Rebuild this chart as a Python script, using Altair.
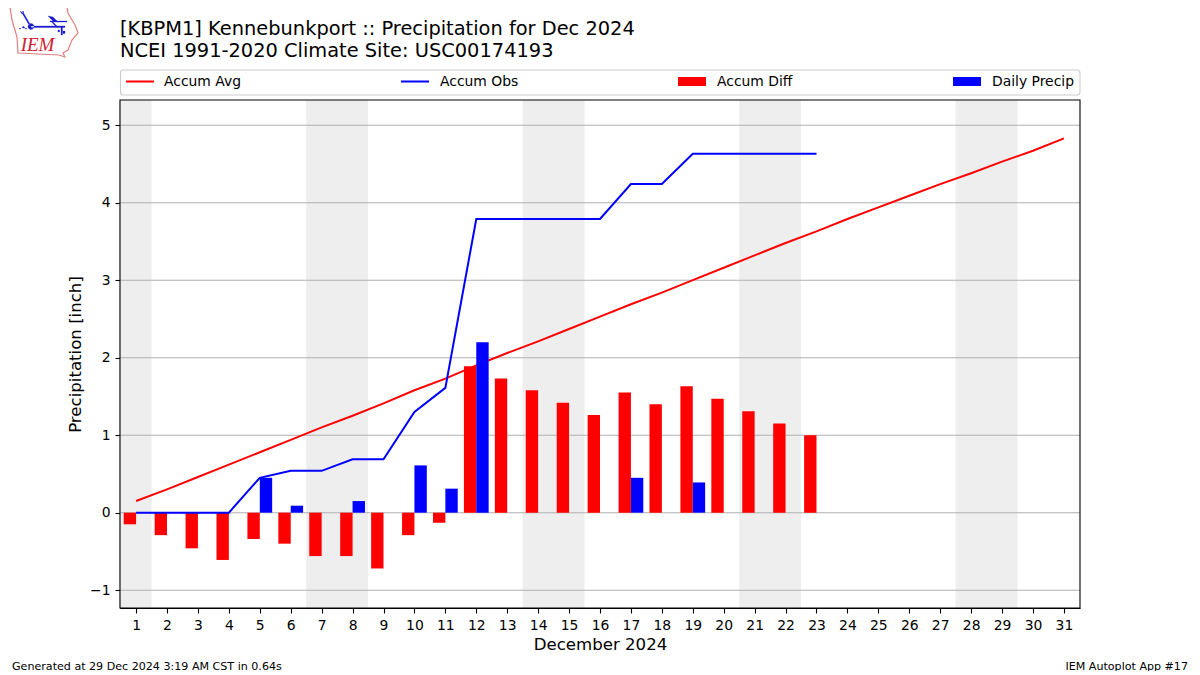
import altair as alt
import pandas as pd

FONT = "DejaVu Sans"

days = list(range(1, 32))
accum_avg = [0.15, 0.30, 0.46, 0.62, 0.78, 0.94, 1.10, 1.25, 1.41, 1.58, 1.73,
             1.90, 2.06, 2.21, 2.37, 2.53, 2.69, 2.84, 3.00, 3.16, 3.32, 3.48,
             3.63, 3.79, 3.94, 4.09, 4.24, 4.38, 4.53, 4.67, 4.83]
obs_days = list(range(1, 24))
accum_obs = [0, 0, 0, 0, 0.45, 0.54, 0.54, 0.69, 0.69, 1.30, 1.61, 3.79, 3.79,
             3.79, 3.79, 3.79, 4.24, 4.24, 4.63, 4.63, 4.63, 4.63, 4.63]
accum_diff = [-0.15, -0.29, -0.46, -0.61, -0.34, -0.40, -0.56, -0.56, -0.72,
              -0.29, -0.13, 1.89, 1.73, 1.58, 1.42, 1.26, 1.55, 1.40, 1.63,
              1.47, 1.31, 1.15, 1.00]
daily_precip = [0, 0, 0, 0, 0.45, 0.09, 0, 0.15, 0, 0.61, 0.31, 2.20, 0, 0, 0,
                0, 0.45, 0, 0.39, 0, 0, 0, 0]
weekend_start = [0.48, 6.5, 13.5, 20.5, 27.5]
weekend_end = [1.5, 8.5, 15.5, 22.5, 29.5]
grid_values = [-1, 0, 1, 2, 3, 4, 5]

XDOM = [0.48, 31.52]
YDOM = [-1.23, 5.325]
BAR_W = 0.4

xs = alt.Scale(domain=XDOM, nice=False, zero=False)
ys = alt.Scale(domain=YDOM, nice=False, zero=False)

df_avg = pd.DataFrame({"day": days, "v": accum_avg})
df_obs = pd.DataFrame({"day": obs_days, "v": accum_obs})
df_diff = pd.DataFrame({"a": [d - BAR_W for d in obs_days], "b": obs_days, "v": accum_diff, "z": [0] * 23})
df_daily = pd.DataFrame({"a": obs_days, "b": [d + BAR_W for d in obs_days], "v": daily_precip, "z": [0] * 23})
df_daily = df_daily[df_daily.v > 0]
df_we = pd.DataFrame({"a": weekend_start, "b": weekend_end})
df_grid = pd.DataFrame({"g": grid_values})

one = alt.Data(values=[{"k": 1}])

shade = alt.Chart(df_we).mark_rect(color="#eeeeee", opacity=1).encode(
    x=alt.X("a:Q", scale=xs,
            axis=alt.Axis(values=days, tickCount=31, format="d", title="December 2024", grid=False,
                          labelFont=FONT, labelFontSize=13.9, labelColor="black", labelFlush=False,
                          titleFont=FONT, titleFontSize=16.6, titleFontWeight="normal", titleColor="black",
                          titlePadding=5, tickColor="black", tickSize=5, tickWidth=1.1, domainColor="black",
                          domainWidth=1.1, labelPadding=5, labelOverlap=False)),
    x2="b:Q",
)
grid = alt.Chart(df_grid).mark_rule(color="#b0b0b0", strokeWidth=1.1).encode(
    y=alt.Y("g:Q", scale=ys,
            axis=alt.Axis(values=grid_values, format="d", title="Precipitation [inch]", grid=False,
                          labelFont=FONT, labelFontSize=13.9, labelColor="black",
                          titleFont=FONT, titleFontSize=16.6, titleFontWeight="normal", titleColor="black",
                          titlePadding=6, tickColor="black", tickSize=5, tickWidth=1.1, domainColor="black",
                          domainWidth=1.1, labelPadding=5)),
)
line_avg = alt.Chart(df_avg).mark_line(color="#ff0000", strokeWidth=2).encode(
    x=alt.X("day:Q", scale=xs), y=alt.Y("v:Q", scale=ys))
bars_diff = alt.Chart(df_diff).mark_rect(color="#ff0000").encode(
    x=alt.X("a:Q", scale=xs), x2="b:Q", y=alt.Y("v:Q", scale=ys), y2="z:Q")
bars_daily = alt.Chart(df_daily).mark_rect(color="#0000ff").encode(
    x=alt.X("a:Q", scale=xs), x2="b:Q", y=alt.Y("v:Q", scale=ys), y2="z:Q")
line_obs = alt.Chart(df_obs).mark_line(color="#0000ff", strokeWidth=2).encode(
    x=alt.X("day:Q", scale=xs), y=alt.Y("v:Q", scale=ys))

# Pixel positions below are relative to the plot's top-left corner (page 120,100).
def px(x): return alt.value(x - 120)
def py(y): return alt.value(y - 100)

def text(s, x, y, size=13.9, align="left"):
    return alt.Chart(one).mark_text(text=s, font=FONT, fontSize=size, color="black", align=align,
                                    baseline="middle", clip=False).encode(x=px(x), y=py(y))

plot_frame = alt.Chart(one).mark_rect(fillOpacity=0, stroke="black", strokeWidth=1.1, clip=False).encode(
    x=px(120), x2=px(1080), y=py(100), y2=py(608))
frame = alt.Chart(one).mark_rect(fill="white", stroke="#cccccc", strokeWidth=1.1, cornerRadius=3, clip=False).encode(
    x=px(120.5), x2=px(1080), y=py(70), y2=py(95))
leg = [frame]
for label, x0, tx, col, kind in [("Accum Avg", 126, 164, "#ff0000", "l"), ("Accum Obs", 401, 440, "#0000ff", "l"),
                                 ("Accum Diff", 678, 717, "#ff0000", "r"), ("Daily Precip", 953, 992, "#0000ff", "r")]:
    if kind == "l":
        leg.append(alt.Chart(one).mark_rule(color=col, strokeWidth=2, clip=False).encode(
            x=px(x0), x2=px(x0 + 28), y=py(81.5)))
    else:
        leg.append(alt.Chart(one).mark_rect(color=col, clip=False).encode(
            x=px(x0), x2=px(x0 + 28), y=py(77), y2=py(86)))
    leg.append(text(label, tx, 81.5))

# Logo drawn as custom symbols; path units are pixels offset from page point (44,32).
OUTLINE = ("M-34,-25 L23,-25 L24,-19 L31,-7 L34,1 L28,8 L24,18 L19,21 L21,25 L15,23 L-26,21 "
           "L-27,5 L-32,-12 Z")
GLYPH = ("M-13,-6 L21,-6 L21,-4.5 L-13,-4.5 Z "                         # main bar
         "M-13,-8.5 A3,3 0 1 0 -13,-2.5 A3,3 0 1 0 -13,-8.5 Z "         # hub
         "M4,-16 L9,-15 L14,-10 L9,-11 Z "                              # vane
         "M6,-11 L23,-11 L23,-10 L6,-10 Z "                             # upper bar
         "M9,-10 L14,-5 L13,-4.5 L8,-9.5 Z "                            # strut
         "M17,-5 L18.5,-5 L18.5,3 L17,3 Z "                             # right post
         "M14,-2 L15.5,-2 L15.5,0 L14,0 Z M19,-1 L21,-1 L21,1.5 L19,1.5 Z "
         "M-15,-7 L-22,-19 L-21,-20 L-14,-8 Z "                         # left arm
         "M-24,-21 L-22,-18 L-20,-20 L-21,-21 L-22,-19.5 Z "            # fork
         "M-20.5,-6 L-19,-4 L-22,-4 Z M-24,-4 L-23,-3 L-25,-3 Z M-18,-4 L-17,-3 L-19,-3 Z")
logo_out = alt.Chart(one).mark_point(shape=OUTLINE, size=4, stroke="#e08080", strokeWidth=1.2, filled=False,
                                     opacity=1, clip=False).encode(x=px(44), y=py(32))
logo_gl = alt.Chart(one).mark_point(shape=GLYPH, size=4, fill="#1a1ad0", stroke="#1a1ad0", strokeWidth=0.3, filled=True,
                                    opacity=1, clip=False).encode(x=px(44), y=py(32))
logo_tx = alt.Chart(one).mark_text(text="IEM", font="Liberation Serif", fontSize=19, fontStyle="italic",
                                   color="#d02030", align="center", baseline="middle", clip=False).encode(x=px(37.5), y=py(45))

chart = alt.layer(
    shade, grid, line_avg, bars_diff, bars_daily, line_obs, plot_frame, *leg,
    logo_out, logo_gl, logo_tx,
    text("[KBPM1] Kennebunkport :: Precipitation for Dec 2024", 120, 29, size=19.4),
    text("NCEI 1991-2020 Climate Site: USC00174193", 120, 51, size=19.4),
    text("Generated at 29 Dec 2024 3:19 AM CST in 0.64s", 12, 666.5, size=11.1),
    text("IEM Autoplot App #17", 1188, 666.5, size=11.1, align="right"),
).properties(
    width=960, height=508,
    padding={"left": 112, "top": 92, "right": 110, "bottom": 63},
    autosize=alt.AutoSizeParams(type="none"),
    background="white",
).configure_view(stroke=None)

chart.save("out.html", embed_options={"renderer": "svg", "actions": False})
